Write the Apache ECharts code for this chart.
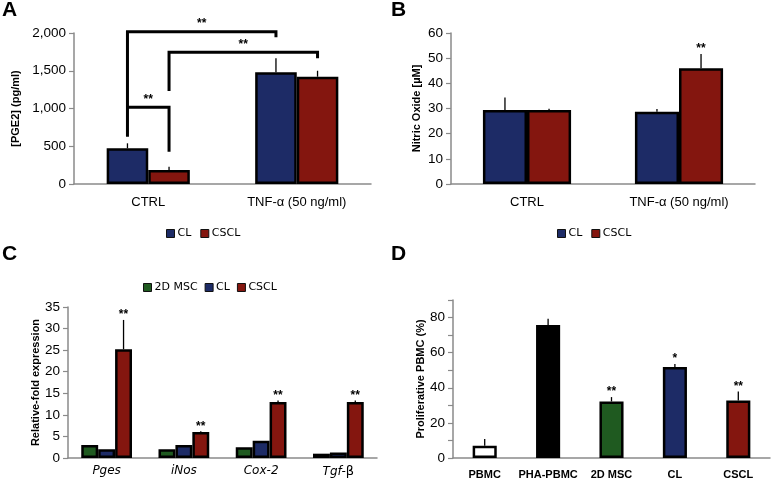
<!DOCTYPE html>
<html><head><meta charset="utf-8">
<script src="https://cdn.jsdelivr.net/npm/echarts@6/dist/echarts.min.js"></script>
<style>html,body{margin:0;padding:0;background:#fff}#c{width:772px;height:483px}</style>
</head><body><div id="c"></div>
<script>
// ---------- data ----------
const catsA = ['CTRL', 'TNF-α (50 ng/ml)'];
const pgeCL = [473, 1479];
const pgeCSCL = [185, 1421];
const pgeCLErr = [66, 186];
const pgeCSCLErr = [44, 79];
// [fromCat, fromSeries, toCat, toSeries, topValue, leftEndValue, rightEndValue]
const bracketsA = [
  [0, 0, 1, 0, 2015, 626, 1943],
  [0, 1, 1, 1, 1744, 1232, 1665],
  [0, 0, 0, 1, 1016, 1016, 428]
];
const bracketLabels = ['**', '**', '**'];

const catsB = ['CTRL', 'TNF-α (50 ng/ml)'];
const noCL = [29.4, 28.7];
const noCSCL = [29.4, 46.0];
const noCLErr = [5.0, 1.1];
const noCSCLErr = [0.5, 5.7];
const noCSCLSig = ['', '**'];

const catsC = ['Pges', 'iNos', 'Cox-2', 'Tgf-β'];
const mscC = [3.0, 2.0, 2.5, 1.0];
const clC = [2.0, 3.0, 4.0, 1.3];
const csclC = [25.2, 6.0, 13.0, 13.0];
const csclCErr = [6.8, 0.2, 0.3, 0.3];
const csclCSig = ['**', '**', '**', '**'];

const catsD = ['PBMC', 'PHA-PBMC', '2D MSC', 'CL', 'CSCL'];
const valsD = [7.0, 75.8, 32.2, 51.8, 32.8];
const errD = [3.8, 3.5, 2.5, 1.7, 5.1];
const sigD = ['', '', '**', '*', '**'];

// ---------- styles ----------
const BLUE = '#1d2b66', RED = '#84160f', GREEN = '#1f5a20', BLACK = '#000000', WHITE = '#ffffff';
const colorsD = [WHITE, BLACK, GREEN, BLUE, RED];
const AXIS = '#8a8a8a';
const FONT = '"Liberation Sans", Arial, sans-serif';

const fracA = 0.28, fracB = 0.29, fracC = 0.219, fracD = 0.38;
const BORDER = 2.5;

function barSeries(name, grid, data, color, frac) {
  return {
    name, type: 'bar', xAxisIndex: grid, yAxisIndex: grid, data,
    barWidth: (frac * 100) + '%', barGap: '0%',
    itemStyle: { color, borderColor: '#000', borderWidth: BORDER },
    z: 3
  };
}

function errSeries(grid, vals, errs, pos, n, frac, sigs) {
  return {
    type: 'custom', xAxisIndex: grid, yAxisIndex: grid, z: 5, clip: false,
    silent: true,
    data: vals.map((v, i) => [i, v, errs[i]]),
    renderItem(params, api) {
      const i = api.value(0), v = api.value(1), e = api.value(2);
      const band = api.size([1, 0])[0];
      const off = (pos - (n - 1) / 2) * band * frac;
      const p0 = api.coord([i, v]);
      const p1 = api.coord([i, v + e]);
      const x = p0[0] + off;
      const children = [];
      if (e > 0) children.push({ type: 'line', shape: { x1: x, y1: p0[1], x2: x, y2: p1[1] }, style: { stroke: '#000', lineWidth: 1.3 } });
      const s = sigs ? sigs[params.dataIndex] : '';
      if (s) children.push({ type: 'text', style: { text: s, x: x, y: p1[1] - 5, align: 'center', verticalAlign: 'middle', font: 'bold 12px ' + FONT, fill: '#000' } });
      return { type: 'group', children };
    }
  };
}

function bracketSeries() {
  return {
    type: 'custom', xAxisIndex: 0, yAxisIndex: 0, z: 6, clip: false, silent: true,
    data: bracketsA,
    renderItem(params, api) {
      const band = api.size([1, 0])[0];
      const xo = (c, s) => api.coord([c, 0])[0] + (s - 0.5) * band * fracA;
      const x1 = xo(api.value(0), api.value(1));
      const x2 = xo(api.value(2), api.value(3));
      const yt = api.coord([0, api.value(4)])[1];
      const yl = api.coord([0, api.value(5)])[1];
      const yr = api.coord([0, api.value(6)])[1];
      return {
        type: 'group', children: [
          { type: 'polyline', shape: { points: [[x1, yl], [x1, yt], [x2, yt], [x2, yr]] }, style: { stroke: '#000', lineWidth: 3, fill: null, lineJoin: 'miter' } },
          { type: 'text', style: { text: bracketLabels[params.dataIndex], x: (x1 + x2) / 2, y: yt - 8, align: 'center', verticalAlign: 'middle', font: 'bold 12px ' + FONT, fill: '#000' } }
        ]
      };
    }
  };
}

function xAxis(grid, data, margin, labelExtra) {
  return Object.assign({
    type: 'category', gridIndex: grid, data,
    axisLine: { lineStyle: { color: AXIS, width: 1.5 } },
    axisTick: { show: false },
    axisLabel: Object.assign({ color: '#000', fontSize: 13, fontFamily: FONT, margin, interval: 0 }, labelExtra || {})
  });
}
function yAxis(grid, max, interval, name, nameGap, fmt) {
  return {
    type: 'value', gridIndex: grid, min: 0, max, interval,
    name, nameLocation: 'middle', nameGap,
    nameTextStyle: { color: '#000', fontWeight: 'bold', fontSize: 11, fontFamily: FONT },
    axisLine: { show: true, lineStyle: { color: AXIS, width: 1.5 } },
    axisTick: { show: true, inside: false, length: 5, lineStyle: { color: AXIS, width: 1.2 } },
    splitLine: { show: false },
    axisLabel: { color: '#000', fontSize: 13.5, fontFamily: FONT, margin: 8, formatter: fmt }
  };
}

const legendBase = {
  itemWidth: 8, itemHeight: 8, itemGap: 9, icon: 'rect', orient: 'horizontal',
  textStyle: { fontSize: 11, fontFamily: '"DejaVu Sans", sans-serif', color: '#000', padding: [0, 0, 0, -2] },
  itemStyle: { borderWidth: 1, borderColor: '#111' }, selectedMode: false
};

const option = {
  animation: false,
  backgroundColor: '#fff',
  grid: [
    { left: 74, top: 33, width: 297, height: 151 },
    { left: 451, top: 33, width: 304, height: 151 },
    { left: 68, top: 307, width: 309, height: 151 },
    { left: 453, top: 300, width: 317, height: 158 }
  ],
  xAxis: [
    xAxis(0, catsA, 12),
    xAxis(1, catsB, 12),
    xAxis(2, catsC, 7, {
      fontFamily: '"DejaVu Sans", sans-serif', fontSize: 12,
      formatter: v => v === 'Tgf-β' ? '{i|Tgf-}{n|β}' : '{i|' + v + '}',
      rich: {
        i: { fontStyle: 'italic', fontFamily: '"DejaVu Sans", sans-serif', fontSize: 12, color: '#000' },
        n: { fontFamily: '"DejaVu Sans", sans-serif', fontSize: 13, color: '#000' }
      }
    }),
    xAxis(3, catsD, 11, { fontSize: 11, fontWeight: 'bold' })
  ],
  yAxis: [
    yAxis(0, 2000, 500, '[PGE2] (pg/ml)', 53, v => v.toLocaleString('en-US')),
    yAxis(1, 60, 10, 'Nitric Oxide [µM]', 29, v => v),
    yAxis(2, 35, 5, 'Relative-fold expression', 26, v => v),
    yAxis(3, 90, 10, 'Proliferative PBMC (%)', 25, v => (v % 20 === 0 && v <= 80) ? v : '')
  ],
  legend: [
    Object.assign({}, legendBase, { data: ['CL', 'CSCL'], left: 161, top: 223 }),
    Object.assign({}, legendBase, { data: ['CL', 'CSCL'], left: 552, top: 223 }),
    Object.assign({}, legendBase, { data: ['2D MSC', 'CL', 'CSCL'], left: 138, top: 277, itemGap: 7 })
  ],
  graphic: [
    { type: 'text', left: 2, top: 0, style: { text: 'A', font: 'bold 21px ' + FONT, fill: '#000' } },
    { type: 'text', left: 391, top: 0, style: { text: 'B', font: 'bold 21px ' + FONT, fill: '#000' } },
    { type: 'text', left: 2, top: 244, style: { text: 'C', font: 'bold 21px ' + FONT, fill: '#000' } },
    { type: 'text', left: 391, top: 244, style: { text: 'D', font: 'bold 21px ' + FONT, fill: '#000' } }
  ],
  series: [
    barSeries('CL', 0, pgeCL, BLUE, fracA),
    barSeries('CSCL', 0, pgeCSCL, RED, fracA),
    errSeries(0, pgeCL, pgeCLErr, 0, 2, fracA, null),
    errSeries(0, pgeCSCL, pgeCSCLErr, 1, 2, fracA, null),
    bracketSeries(),

    barSeries('CL', 1, noCL, BLUE, fracB),
    barSeries('CSCL', 1, noCSCL, RED, fracB),
    errSeries(1, noCL, noCLErr, 0, 2, fracB, null),
    errSeries(1, noCSCL, noCSCLErr, 1, 2, fracB, noCSCLSig),

    barSeries('2D MSC', 2, mscC, GREEN, fracC),
    barSeries('CL', 2, clC, BLUE, fracC),
    barSeries('CSCL', 2, csclC, RED, fracC),
    errSeries(2, csclC, csclCErr, 2, 3, fracC, csclCSig),

    {
      name: 'Proliferation', type: 'bar', xAxisIndex: 3, yAxisIndex: 3,
      barWidth: (fracD * 100) + '%',
      data: valsD.map((v, i) => ({ value: v, itemStyle: { color: colorsD[i] } })),
      itemStyle: { borderColor: '#000', borderWidth: BORDER }, z: 3
    },
    errSeries(3, valsD, errD, 0, 1, fracD, sigD)
  ]
};

const chart = echarts.init(document.getElementById('c'), null, { renderer: 'canvas' });
chart.setOption(option);
</script>
</body></html>
